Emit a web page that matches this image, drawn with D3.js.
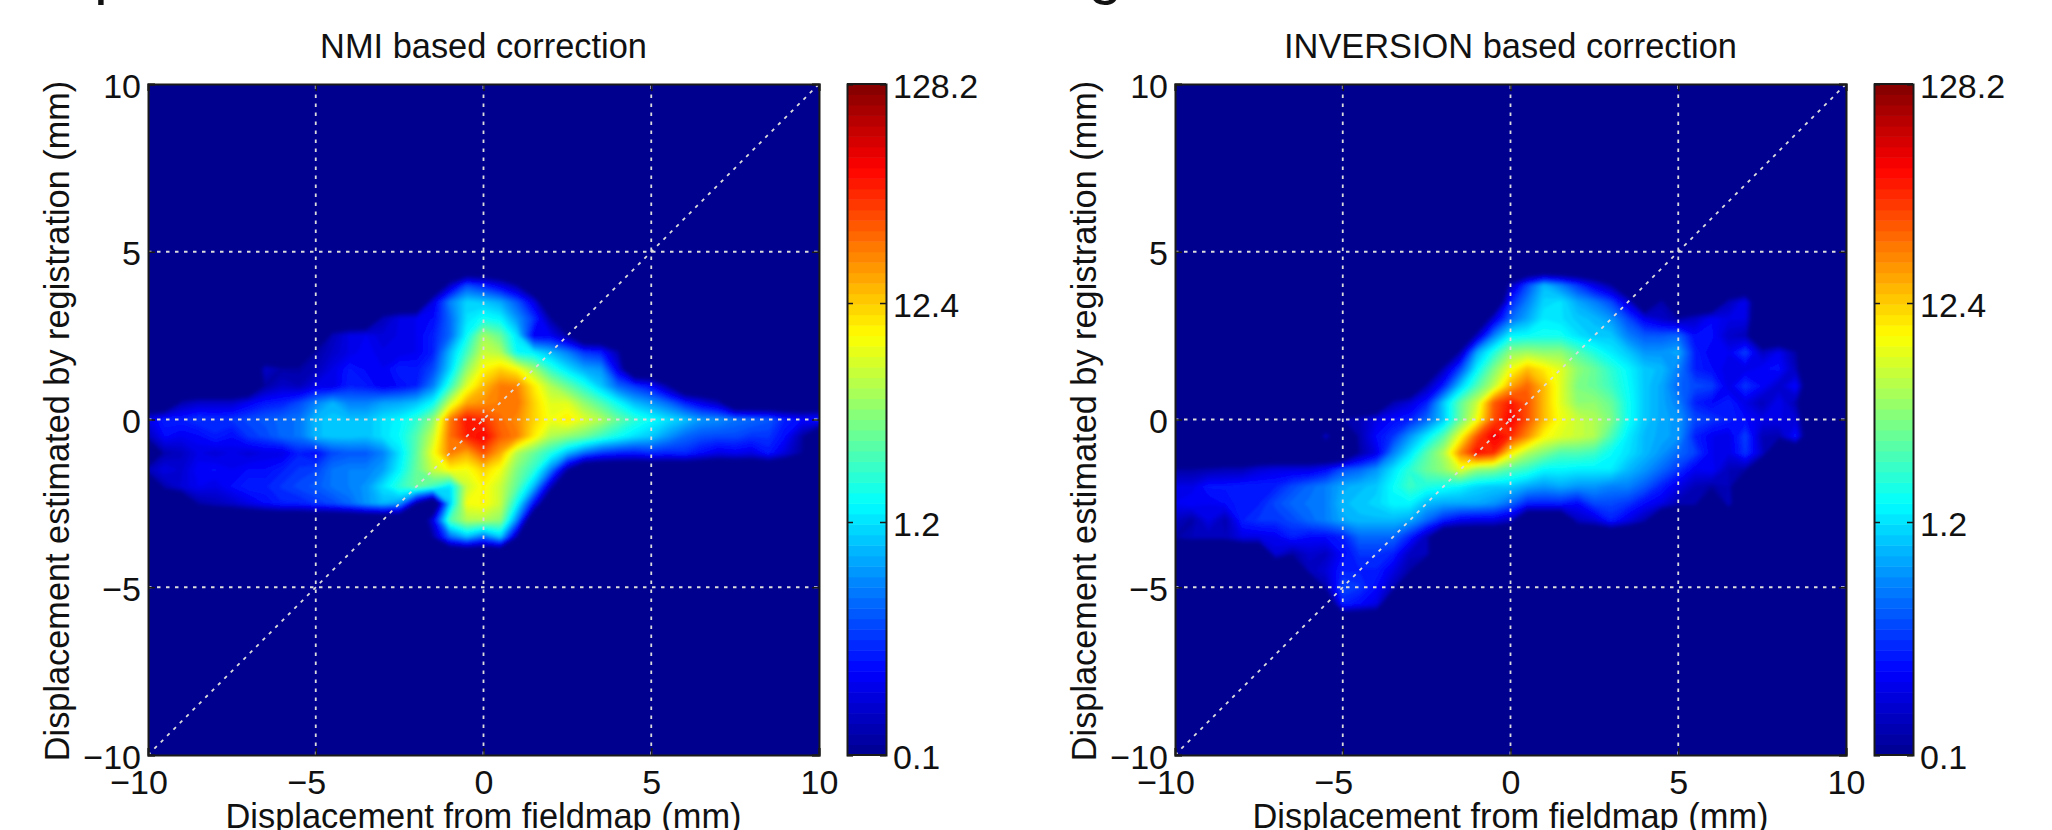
<!DOCTYPE html>
<html>
<head>
<meta charset="utf-8">
<script src="https://cdn.jsdelivr.net/npm/d3@7"></script>
<style>
html, body { margin: 0; padding: 0; background: #fff; overflow: hidden; }
text { font-family: "Liberation Sans", Arial, sans-serif; fill: #111; }
</style>
</head>
<body>
<div id="chart"></div>
<script>
// grid the densities were read on (mm)
var gridX = d3.range(41).map(function(i){ return -10 + i*0.5; });
var nmiY = [4.5,4,3.5,3,2.5,2,1.5,1,0.5,0,-0.5,-1,-1.5,-2,-2.5,-3,-3.5,-4];
var invY = [4.5,4,3.5,3,2.5,2,1.5,1,0.5,0,-0.5,-1,-1.5,-2,-2.5,-3,-3.5,-4,-4.5,-5,-5.5,-6];

var axisTicks = [-10,-5,0,5,10];
var cbarTicks = [0.1,1.2,12.4,128.2];
var cbarLabels = ["0.1","1.2","12.4","128.2"];

// density per cell: x -10..-0.5, x 0, x 0.5..10
var nmiDensity = [
	[.1,.1,.1,.1,.1, .1,.1,.1,.1,.1, .1,.1,.1,.1,.1, .1,.1,.1,.1,.1, .1, .1,.1,.1,.1,.1, .1,.1,.1,.1,.1, .1,.1,.1,.1,.1, .1,.1,.1,.1,.1],
	[.1,.1,.1,.1,.1, .1,.1,.1,.1,.1, .1,.1,.1,.1,.1, .1,.1,.1,.15,.4, .3, .2,.12,.1,.1,.1, .1,.1,.1,.1,.1, .1,.1,.1,.1,.1, .1,.1,.1,.1,.1],
	[.1,.1,.1,.1,.1, .1,.1,.1,.1,.1, .1,.1,.1,.1,.1, .1,.1,.2,.6,1.1, 1, .8,.45,.2,.1,.1, .1,.1,.1,.1,.1, .1,.1,.1,.1,.1, .1,.1,.1,.1,.1],
	[.1,.1,.1,.1,.1, .1,.1,.1,.1,.1, .1,.1,.1,.1,.14, .2,.22,.25,.5,1.2, 1.6, 1.4,.7,.35,.12,.1, .1,.1,.1,.1,.1, .1,.1,.1,.1,.1, .1,.1,.1,.1,.1],
	[.1,.1,.1,.1,.1, .1,.1,.1,.1,.1, .1,.14,.2,.22,.18, .2,.22,.3,.5,1.5, 4.5, 3,1.2,.22,.22,.12, .1,.1,.1,.1,.1, .1,.1,.1,.1,.1, .1,.1,.1,.1,.1],
	[.1,.1,.1,.1,.1, .1,.1,.1,.1,.1, .12,.16,.2,.24,.2, .2,.22,.3,.9,2.3, 6, 5,1.5,1.3,.9,.6, .35,.3,.13,.1,.1, .1,.1,.1,.1,.1, .1,.1,.1,.1,.1],
	[.1,.1,.1,.1,.1, .1,.1,.16,.12,.12, .14,.2,.28,.24,.22, .3,.28,.4,1.1,4, 9, 12,9,4.5,2,1.2, .8,.7,.2,.1,.1, .1,.1,.1,.1,.1, .1,.1,.1,.1,.1],
	[.1,.1,.1,.1,.1, .1,.1,.12,.16,.14, .2,.2,.3,.28,.22, .25,.3,.6,2,7, 14, 22,21,10,5,3, 1.8,1,.5,.35,.25, .12,.1,.1,.1,.1, .1,.1,.1,.1,.1],
	[.1,.1,.13,.16,.16, .16,.22,.28,.3,.4, .6,.85,.6,.6,.75, .8,.95,1.5,6,16, 19, 22,24,12,7,7, 4,2.5,1.5,.9,.7, .5,.3,.2,.14,.1, .1,.1,.1,.1,.1],
	[.2,.3,.3,.35,.33, .35,.4,.45,.5,.55, .9,1,.95,.95,1.2, 1.4,2,4,22,48, 38, 25,20,12,8,10, 7,5,3,2,1.5, 1.2,.95,.7,.65,.55, .5,.45,.3,.25,.3],
	[.14,.25,.22,.24,.3, .25,.35,.4,.5,.55, .9,1,1,.95,1.2, 1.5,2.6,6,24,42, 55, 28,22,10,5,4, 3.2,2.2,1.6,1.2,1, .7,.5,.42,.4,.4, .35,.35,.25,.12,.1],
	[.1,.13,.15,.2,.18, .2,.18,.2,.2,.3, .25,.4,.45,.45,.6, 1.2,2.8,8,22,16, 30, 16,5,3,1.8,.9, .5,.35,.3,.28,.32, .3,.32,.25,.2,.22, .2,.28,.18,.11,.1],
	[.14,.2,.17,.24,.25, .22,.25,.25,.3,.35, .38,.55,.6,.6,.75, 1.4,3,6,9,8, 12, 8,3.5,2,.6,.12, .1,.1,.1,.1,.1, .1,.1,.1,.1,.1, .1,.1,.1,.1,.1],
	[.1,.13,.18,.22,.2, .25,.3,.3,.35,.4, .45,.55,.6,.7,1.2, 2,3,2.2,1.2,6, 9, 6,2.8,.9,.15,.1, .1,.1,.1,.1,.1, .1,.1,.1,.1,.1, .1,.1,.1,.1,.1],
	[.1,.1,.1,.12,.14, .16,.2,.25,.3,.3, .35,.4,.5,.7,.9, .7,.12,.1,1,8, 9, 6,1.5,.25,.1,.1, .1,.1,.1,.1,.1, .1,.1,.1,.1,.1, .1,.1,.1,.1,.1],
	[.1,.1,.1,.1,.1, .1,.1,.1,.1,.1, .1,.1,.1,.1,.1, .1,.1,.2,2.5,5, 5, 4,.6,.1,.1,.1, .1,.1,.1,.1,.1, .1,.1,.1,.1,.1, .1,.1,.1,.1,.1],
	[.1,.1,.1,.1,.1, .1,.1,.1,.1,.1, .1,.1,.1,.1,.1, .1,.1,.12,.5,.9, .5, 1,.12,.1,.1,.1, .1,.1,.1,.1,.1, .1,.1,.1,.1,.1, .1,.1,.1,.1,.1],
	[.1,.1,.1,.1,.1, .1,.1,.1,.1,.1, .1,.1,.1,.1,.1, .1,.1,.1,.1,.1, .1, .1,.1,.1,.1,.1, .1,.1,.1,.1,.1, .1,.1,.1,.1,.1, .1,.1,.1,.1,.1]
];

var invDensity = [
	[.1,.1,.1,.1,.1, .1,.1,.1,.1,.1, .1,.1,.1,.1,.1, .1,.1,.1,.1,.1, .1, .1,.1,.1,.1,.1, .1,.1,.1,.1,.1, .1,.1,.1,.1,.1, .1,.1,.1,.1,.1],
	[.1,.1,.1,.1,.1, .1,.1,.1,.1,.1, .1,.1,.1,.1,.1, .1,.1,.1,.1,.1, .14, .4,.9,.6,.35,.2, .12,.1,.1,.1,.1, .1,.1,.1,.1,.1, .1,.1,.1,.1,.1],
	[.1,.1,.1,.1,.1, .1,.1,.1,.1,.1, .1,.1,.1,.1,.1, .1,.1,.1,.1,.1, .3, .6,1.1,1.2,.8,.6, .4,.18,.1,.13,.1, .1,.1,.14,.22,.1, .1,.1,.1,.1,.1],
	[.1,.1,.1,.1,.1, .1,.1,.1,.1,.1, .1,.1,.1,.1,.1, .1,.1,.1,.1,.18, .5, .8,1.3,1.2,1,.9, .7,.4,.22,.16,.12, .16,.24,.2,.2,.1, .1,.1,.1,.1,.1],
	[.1,.1,.1,.1,.1, .1,.1,.1,.1,.1, .1,.1,.1,.1,.1, .1,.1,.1,.15,.6, 1.4, 1.5,1.6,1.6,1.2,1, 1,.6,.45,.45,.5, .25,.26,.16,.14,.1, .1,.1,.1,.1,.1],
	[.1,.1,.1,.1,.1, .1,.1,.1,.1,.1, .1,.1,.1,.1,.1, .1,.1,.13,.8,1.8, 4, 4.5,4,4,2.6,1.8, 1.3,1,.7,.7,.8, .3,.22,.22,.38,.15, .22,.12,.1,.1,.1],
	[.1,.1,.1,.1,.1, .1,.1,.1,.1,.1, .1,.1,.1,.1,.1, .1,.14,.4,1.4,3.5, 8, 14,10,7,4,3, 2,1.4,1,.9,.6, .3,.25,.2,.2,.24, .26,.14,.1,.1,.1],
	[.1,.1,.1,.1,.1, .1,.1,.1,.1,.1, .1,.1,.1,.1,.1, .13,.3,1,2.5,5.5, 16, 26,14,7,3.5,3, 2.2,1.5,1,.8,.5, .4,.38,.2,.36,.24, .16,.26,.1,.1,.1],
	[.1,.1,.1,.1,.1, .1,.1,.1,.1,.1, .1,.1,.1,.13,.18, .3,1,2.8,6,28, 45, 30,14,7,4,4, 3,1.6,1,.8,.6, .3,.24,.3,.2,.14, .22,.13,.1,.1,.1],
	[.1,.1,.1,.1,.1, .1,.1,.1,.1,.1, .12,.14,.2,.25,.3, .5,1,3,8,30, 55, 30,14,8,6,5, 3.5,1.6,1,.8,.7, .4,.35,.3,.25,.2, .2,.18,.1,.1,.1],
	[.1,.1,.1,.1,.1, .1,.1,.1,.1,.16, .1,.13,.25,.35,.7, 1.3,2.6,8,30,60, 40, 20,9,7,6,5, 2.5,1.3,.9,.8,.7, .3,.22,.2,.38,.14, .13,.28,.1,.1,.1],
	[.1,.1,.1,.1,.1, .1,.1,.1,.1,.1, .1,.12,.2,.6,1.2, 2.6,5,20,50,40, 10, 5,3.5,2.5,2.5,2.2, 1.5,1.2,.9,.7,.5, .38,.22,.2,.35,.16, .1,.1,.1,.1,.1],
	[.12,.12,.13,.14,.14, .18,.2,.2,.2,.25, .42,.5,.7,1.2,2, 3,4,7,4,3.5, 2.5, 2,1.4,1.4,1.3,1.3, 1.3,.9,.7,.5,.35, .22,.24,.14,.12,.1, .1,.1,.1,.1,.1],
	[.2,.2,.28,.28,.3, .3,.3,.4,.5,.6, .8,.9,1,1.5,2.2, 1.8,1.6,1.4,1.1,1, 1, .8,.7,.8,.7,.7, .6,.6,.45,.3,.2, .14,.12,.14,.1,.1, .1,.1,.1,.1,.1],
	[.22,.25,.22,.25,.3, .3,.4,.5,.55,.6, .9,1,1.1,1.4,1.4, .9,.8,.8,.8,.7, .5, .3,.3,.3,.25,.4, .4,.35,.25,.2,.13, .13,.1,.15,.1,.1, .1,.1,.1,.1,.1],
	[.15,.12,.2,.13,.3, .35,.35,.4,.5,.6, .8,.9,.9,.9,.8, .5,.3,.22,.2,.2, .15, .1,.1,.1,.15,.18, .3,.2,.13,.1,.1, .1,.1,.1,.1,.1, .1,.1,.1,.1,.1],
	[.12,.14,.14,.14,.2, .2,.22,.3,.25,.25, .3,.5,.5,.5,.3, .14,.1,.1,.1,.1, .1, .1,.1,.1,.1,.1, .1,.1,.1,.1,.1, .1,.1,.1,.1,.1, .1,.1,.1,.1,.1],
	[.1,.1,.1,.1,.1, .1,.18,.12,.17,.15, .25,.35,.35,.3,.15, .14,.1,.1,.1,.1, .1, .1,.1,.1,.1,.1, .1,.1,.1,.1,.1, .1,.1,.1,.1,.1, .1,.1,.1,.1,.1],
	[.1,.1,.1,.1,.1, .1,.1,.1,.14,.18, .3,.3,.3,.2,.12, .1,.1,.1,.1,.1, .1, .1,.1,.1,.1,.1, .1,.1,.1,.1,.1, .1,.1,.1,.1,.1, .1,.1,.1,.1,.1],
	[.1,.1,.1,.1,.1, .1,.1,.1,.1,.13, .4,.35,.25,.14,.1, .1,.1,.1,.1,.1, .1, .1,.1,.1,.1,.1, .1,.1,.1,.1,.1, .1,.1,.1,.1,.1, .1,.1,.1,.1,.1],
	[.1,.1,.1,.1,.1, .1,.1,.1,.1,.1, .3,.25,.2,.1,.1, .1,.1,.1,.1,.1, .1, .1,.1,.1,.1,.1, .1,.1,.1,.1,.1, .1,.1,.1,.1,.1, .1,.1,.1,.1,.1],
	[.1,.1,.1,.1,.1, .1,.1,.1,.1,.1, .1,.1,.1,.1,.1, .1,.1,.1,.1,.1, .1, .1,.1,.1,.1,.1, .1,.1,.1,.1,.1, .1,.1,.1,.1,.1, .1,.1,.1,.1,.1]
];

var panels = [
	{ title: "NMI based correction", left: 148, cbar: 847, rows: nmiY, density: nmiDensity, id: "a" },
	{ title: "INVERSION based correction", left: 1175, cbar: 1874, rows: invY, density: invDensity, id: "b" }
];
var plotSize = 671, plotTop = 84, cbarWidth = 39, nLevels = 64;
// empty cells sit under the colour range, keeps the edge of the cloud tight
var emptyLevel = 0.04;

var svg = d3.select("#chart")
	.append("svg")
	.attr("width", 2052)
	.attr("height", 830)
	.style("display", "block");

var defs = svg.append("defs");
defs.append("filter")
	.attr("id", "soft")
	.attr("x", "-5%").attr("y", "-5%")
	.attr("width", "110%").attr("height", "110%")
	.append("feGaussianBlur")
	.attr("stdDeviation", 1.6);

// jet colormap, 0..1
var jet = d3.scaleLinear()
	.domain([0, 1/8, 3/8, 5/8, 7/8, 1])
	.range(["#00008f", "#0000ff", "#00ffff", "#ffff00", "#ff0000", "#800000"]);
var colorPos = d3.scaleLog()
	.domain([0.1, 128.2])
	.range([0, 1]);
var levels = d3.range(nLevels);

function minusFormat(d){
	return String(d).replace("-", "\u2212");
}

panels.forEach(drawPanel);

// what is left of the slide heading, cut by the top of the picture
svg.append("text").attr("x", 94).attr("y", -8).style("font-size", "62px").text("p");
svg.append("text").attr("x", 1088).attr("y", -8).style("font-size", "62px").text("g");

function drawPanel(p){
	var x = d3.scaleLinear().domain([-10, 10]).range([p.left, p.left + plotSize]);
	var y = d3.scaleLinear().domain([-10, 10]).range([plotTop + plotSize, plotTop]);

	defs.append("clipPath").attr("id", "clip" + p.id)
		.append("rect")
		.attr("x", p.left).attr("y", plotTop)
		.attr("width", plotSize).attr("height", plotSize);

	var nx = gridX.length, ny = p.rows.length;
	var values = [];
	p.density.forEach(function(row, i){
		if (row.length != nx) throw new Error("bad row " + p.id + " " + i + " " + row.length);
		row.forEach(function(v){ values.push(colorPos(v <= 0.1 ? emptyLevel : v)); });
	});

	// contour coords -> data coords -> pixels
	var colX = d3.scaleLinear().domain([0.5, nx - 0.5]).range([gridX[0], gridX[nx-1]]);
	var rowY = d3.scaleLinear().domain([0.5, ny - 0.5]).range([p.rows[0], p.rows[ny-1]]);
	var path = d3.geoPath(d3.geoTransform({
		point: function(px, py){ this.stream.point(x(colX(px)), y(rowY(py))); }
	}));

	var contours = d3.contours()
		.size([nx, ny])
		.thresholds(levels.slice(1).map(function(i){ return i/nLevels; }))(values);

	var image = svg.append("g").attr("clip-path", "url(#clip" + p.id + ")")
		.append("g").attr("filter", "url(#soft)");
	image.append("rect")
		.attr("x", x(-10) - 20).attr("y", y(10) - 20)
		.attr("width", plotSize + 40).attr("height", plotSize + 40)
		.attr("fill", jet(0));
	image.selectAll("path")
		.data(contours)
		.enter().append("path")
		.attr("d", path)
		.attr("fill", function(d){ return jet(d.value + 0.5/nLevels); });

	// dotted grid and the identity line
	var grid = svg.append("g")
		.attr("fill", "none")
		.attr("stroke", "#dcdcdc")
		.attr("stroke-width", 1.8)
		.attr("stroke-dasharray", "3.5 5.5");
	axisTicks.slice(1, -1).forEach(function(t){
		grid.append("line").attr("x1", x(t)).attr("x2", x(t)).attr("y1", y(-10)).attr("y2", y(10));
		grid.append("line").attr("x1", x(-10)).attr("x2", x(10)).attr("y1", y(t)).attr("y2", y(t));
	});
	grid.append("line").attr("x1", x(-10)).attr("x2", x(10)).attr("y1", y(-10)).attr("y2", y(10));

	// axes, matlab style ticks pointing in
	var bottom = svg.append("g")
		.attr("transform", "translate(0," + y(-10) + ")")
		.call(d3.axisBottom(x).tickValues(axisTicks).tickSize(-7).tickFormat(minusFormat));
	bottom.selectAll("text")
		.attr("y", 39)
		.attr("dy", 0)
		.attr("dx", function(d){ return d < 0 ? -9.5 : 0; });
	var left = svg.append("g")
		.attr("transform", "translate(" + x(-10) + ",0)")
		.call(d3.axisLeft(y).tickValues(axisTicks).tickSize(-7).tickFormat(minusFormat));
	left.selectAll("text")
		.attr("x", -7)
		.attr("dy", 13);
	svg.append("g")
		.attr("transform", "translate(0," + y(10) + ")")
		.call(d3.axisTop(x).tickValues(axisTicks).tickSize(-7).tickFormat(""));
	svg.append("g")
		.attr("transform", "translate(" + x(10) + ",0)")
		.call(d3.axisRight(y).tickValues(axisTicks).tickSize(-7).tickFormat(""));
	svg.selectAll(".tick text").style("font-size", "34px").style("font-family", null);
	svg.selectAll(".domain").attr("stroke", "#1a1a1a").attr("stroke-width", 2);
	svg.selectAll(".tick line").attr("stroke", "#1a1a1a").attr("stroke-width", 1.5);

	// titles
	svg.append("text")
		.attr("x", x(0)).attr("y", 58)
		.attr("text-anchor", "middle")
		.style("font-size", "34.4px")
		.text(p.title);
	svg.append("text")
		.attr("x", x(0)).attr("y", 828)
		.attr("text-anchor", "middle")
		.style("font-size", "34.4px")
		.text("Displacement from fieldmap (mm)");
	svg.append("text")
		.attr("transform", "translate(" + (p.left - 79) + ",421) rotate(-90)")
		.attr("text-anchor", "middle")
		.style("font-size", "34.3px")
		.text("Displacement estimated by registration (mm)");

	// colorbar
	var cscale = d3.scaleLog().domain([0.1, 128.2]).range([plotTop + plotSize, plotTop]);
	var bandH = plotSize / nLevels;
	svg.append("g").selectAll("rect")
		.data(levels)
		.enter().append("rect")
		.attr("x", p.cbar)
		.attr("y", function(i){ return plotTop + plotSize - (i + 1) * bandH; })
		.attr("width", cbarWidth)
		.attr("height", bandH + 0.5)
		.attr("fill", function(i){ return jet((i + 0.5) / nLevels); });
	var cb = svg.append("g")
		.attr("transform", "translate(" + (p.cbar + cbarWidth) + ",0)")
		.call(d3.axisRight(cscale).tickValues(cbarTicks).tickSize(-6)
			.tickFormat(function(d, i){ return cbarLabels[i]; }));
	cb.selectAll("text")
		.attr("x", 7)
		.attr("dy", 13)
		.style("font-size", "34px")
		.style("font-family", null);
	cb.selectAll(".tick line").attr("stroke", "#1a1a1a").attr("stroke-width", 1.5);
	cb.select(".domain").attr("stroke", "#1a1a1a").attr("stroke-width", 2);
	svg.append("g")
		.attr("transform", "translate(" + p.cbar + ",0)")
		.call(d3.axisLeft(cscale).tickValues(cbarTicks).tickSize(-6).tickFormat(""))
		.call(function(g){
			g.select(".domain").attr("stroke", "#1a1a1a").attr("stroke-width", 2);
			g.selectAll(".tick line").attr("stroke", "#1a1a1a").attr("stroke-width", 1.5);
		});
	svg.append("line")
		.attr("x1", p.cbar).attr("x2", p.cbar + cbarWidth)
		.attr("y1", plotTop).attr("y2", plotTop)
		.attr("stroke", "#1a1a1a").attr("stroke-width", 2);
	svg.append("line")
		.attr("x1", p.cbar).attr("x2", p.cbar + cbarWidth)
		.attr("y1", plotTop + plotSize).attr("y2", plotTop + plotSize)
		.attr("stroke", "#1a1a1a").attr("stroke-width", 2);
}
</script>
</body>
</html>
